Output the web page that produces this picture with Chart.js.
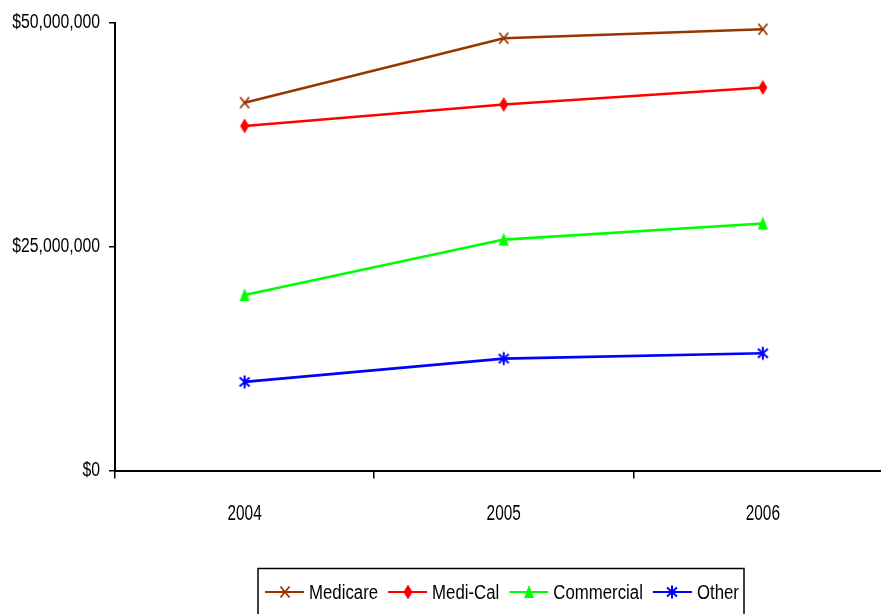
<!DOCTYPE html>
<html>
<head>
<meta charset="utf-8">
<script src="https://cdn.jsdelivr.net/npm/chart.js@4/dist/chart.umd.min.js"></script>
<style>
  html, body { margin: 0; padding: 0; background: #fff; overflow: hidden; }
  #wrap { position: absolute; left: 0; top: 0; width: 903px; height: 614px; }
  #c { display: block; width: 903px; height: 614px; }
</style>
</head>
<body>
<div id="wrap"><canvas id="c" width="903" height="614"></canvas></div>
<script>
// Revenue by payer, 2004-2006
const years = ['2004', '2005', '2006'];
const medicare   = [41100000, 48300000, 49300000];
const mediCal    = [38500000, 40900000, 42800000];
const commercial = [19600000, 25800000, 27600000];
const other      = [9900000, 12500000, 13100000];
const yTicks = [0, 25000000, 50000000];

const FONT = "'Liberation Sans', Arial, sans-serif";

// narrow text: a regular face squeezed horizontally
function narrowText(ctx, text, x, y, size, squeeze, align) {
  ctx.save();
  ctx.font = size + 'px ' + FONT;
  ctx.fillStyle = '#000';
  ctx.textAlign = align;
  ctx.textBaseline = 'middle';
  ctx.translate(x, y);
  ctx.scale(squeeze, 1);
  ctx.fillText(text, 0, 0);
  const w = ctx.measureText(text).width * squeeze;
  ctx.restore();
  return w;
}

// marker images, drawn once per series
function marker(kind, color) {
  const c = document.createElement('canvas');
  const w = 16, h = 18;
  c.width = w; c.height = h;
  const g = c.getContext('2d');
  g.strokeStyle = color; g.fillStyle = color; g.lineWidth = 1.8;
  const cx = w / 2, cy = h / 2;
  g.beginPath();
  if (kind === 'x') {
    g.moveTo(cx - 4.5, cy - 5.5); g.lineTo(cx + 4.5, cy + 5.5);
    g.moveTo(cx + 4.5, cy - 5.5); g.lineTo(cx - 4.5, cy + 5.5);
    g.stroke();
  } else if (kind === 'diamond') {
    g.moveTo(cx, cy - 7.5); g.lineTo(cx + 4.5, cy); g.lineTo(cx, cy + 7.5); g.lineTo(cx - 4.5, cy);
    g.closePath(); g.fill();
  } else if (kind === 'triangle') {
    g.moveTo(cx, cy - 7); g.lineTo(cx + 5, cy + 6); g.lineTo(cx - 5, cy + 6);
    g.closePath(); g.fill();
  } else {
    g.lineWidth = 2;
    g.moveTo(cx, cy - 6.5); g.lineTo(cx, cy + 6.5);
    g.moveTo(cx - 5, cy - 4.5); g.lineTo(cx + 5, cy + 4.5);
    g.moveTo(cx + 5, cy - 4.5); g.lineTo(cx - 5, cy + 4.5);
    g.stroke();
  }
  return c;
}

function money(v) {
  return '$' + Number(v).toLocaleString('en-US');
}

const series = [
  { label: 'Medicare',   data: medicare,   color: '#993300', kind: 'x' },
  { label: 'Medi-Cal',   data: mediCal,    color: '#FF0000', kind: 'diamond' },
  { label: 'Commercial', data: commercial, color: '#00FF00', kind: 'triangle' },
  { label: 'Other',      data: other,      color: '#0000FF', kind: 'asterisk' }
];

// axis labels in a narrow style, placed at the scales' own tick pixels
const axisLabels = {
  id: 'axisLabels',
  afterDraw(chart) {
    const ctx = chart.ctx;
    const ys = chart.scales.y, xs = chart.scales.x;
    ys.ticks.forEach((t, i) => {
      narrowText(ctx, money(t.value), 100, ys.getPixelForTick(i), 19.5, 0.81, 'right');
    });
    xs.getLabels().forEach((lab, i) => {
      narrowText(ctx, lab, xs.getPixelForValue(i), 514, 22, 0.7, 'center');
    });
  }
};

// boxed legend under the plot: short line with the marker, then the name
const boxLegend = {
  id: 'boxLegend',
  afterDraw(chart) {
    const ctx = chart.ctx;
    ctx.save();
    ctx.lineWidth = 1.5;
    ctx.strokeStyle = '#000';
    ctx.strokeRect(258, 568.5, 486, 60);
    let x = 265;
    const y = 592;
    chart.data.datasets.forEach((ds) => {
      ctx.strokeStyle = ds.borderColor;
      ctx.lineWidth = 2;
      ctx.beginPath();
      ctx.moveTo(x, y); ctx.lineTo(x + 39, y);
      ctx.stroke();
      const img = ds.pointStyle;
      ctx.drawImage(img, Math.round(x + 19.5 - img.width / 2), Math.round(y - img.height / 2));
      const w = narrowText(ctx, ds.label, x + 44, y + 1, 20, 0.84, 'left');
      x += 44 + w + 10;
    });
    ctx.restore();
  }
};

new Chart(document.getElementById('c'), {
  type: 'line',
  data: {
    labels: years,
    datasets: series.map(s => ({
      label: s.label,
      data: s.data,
      borderColor: s.color,
      backgroundColor: s.color,
      borderWidth: 2.6,
      pointStyle: marker(s.kind, s.color),
      pointRadius: 8,
      tension: 0
    }))
  },
  options: {
    responsive: false,
    maintainAspectRatio: false,
    animation: false,
    layout: { padding: { top: 23, right: 0, bottom: 0, left: 0 } },
    plugins: { legend: { display: false }, tooltip: { enabled: false } },
    scales: {
      x: {
        offset: true,
        grid: { offset: true, drawOnChartArea: false, tickLength: 8, color: '#000', lineWidth: 1.5 },
        border: { color: '#000', width: 2 },
        ticks: { display: false },
        afterFit(scale) { scale.height = 143.5; }
      },
      y: {
        min: 0,
        max: 50000000,
        afterBuildTicks(scale) { scale.ticks = yTicks.map(v => ({ value: v })); },
        grid: { drawOnChartArea: false, tickLength: 6, color: '#000', lineWidth: 1.5 },
        border: { color: '#000', width: 2 },
        ticks: { display: false },
        afterFit(scale) { scale.width = 115; }
      }
    }
  },
  plugins: [axisLabels, boxLegend]
});
</script>
</body>
</html>
